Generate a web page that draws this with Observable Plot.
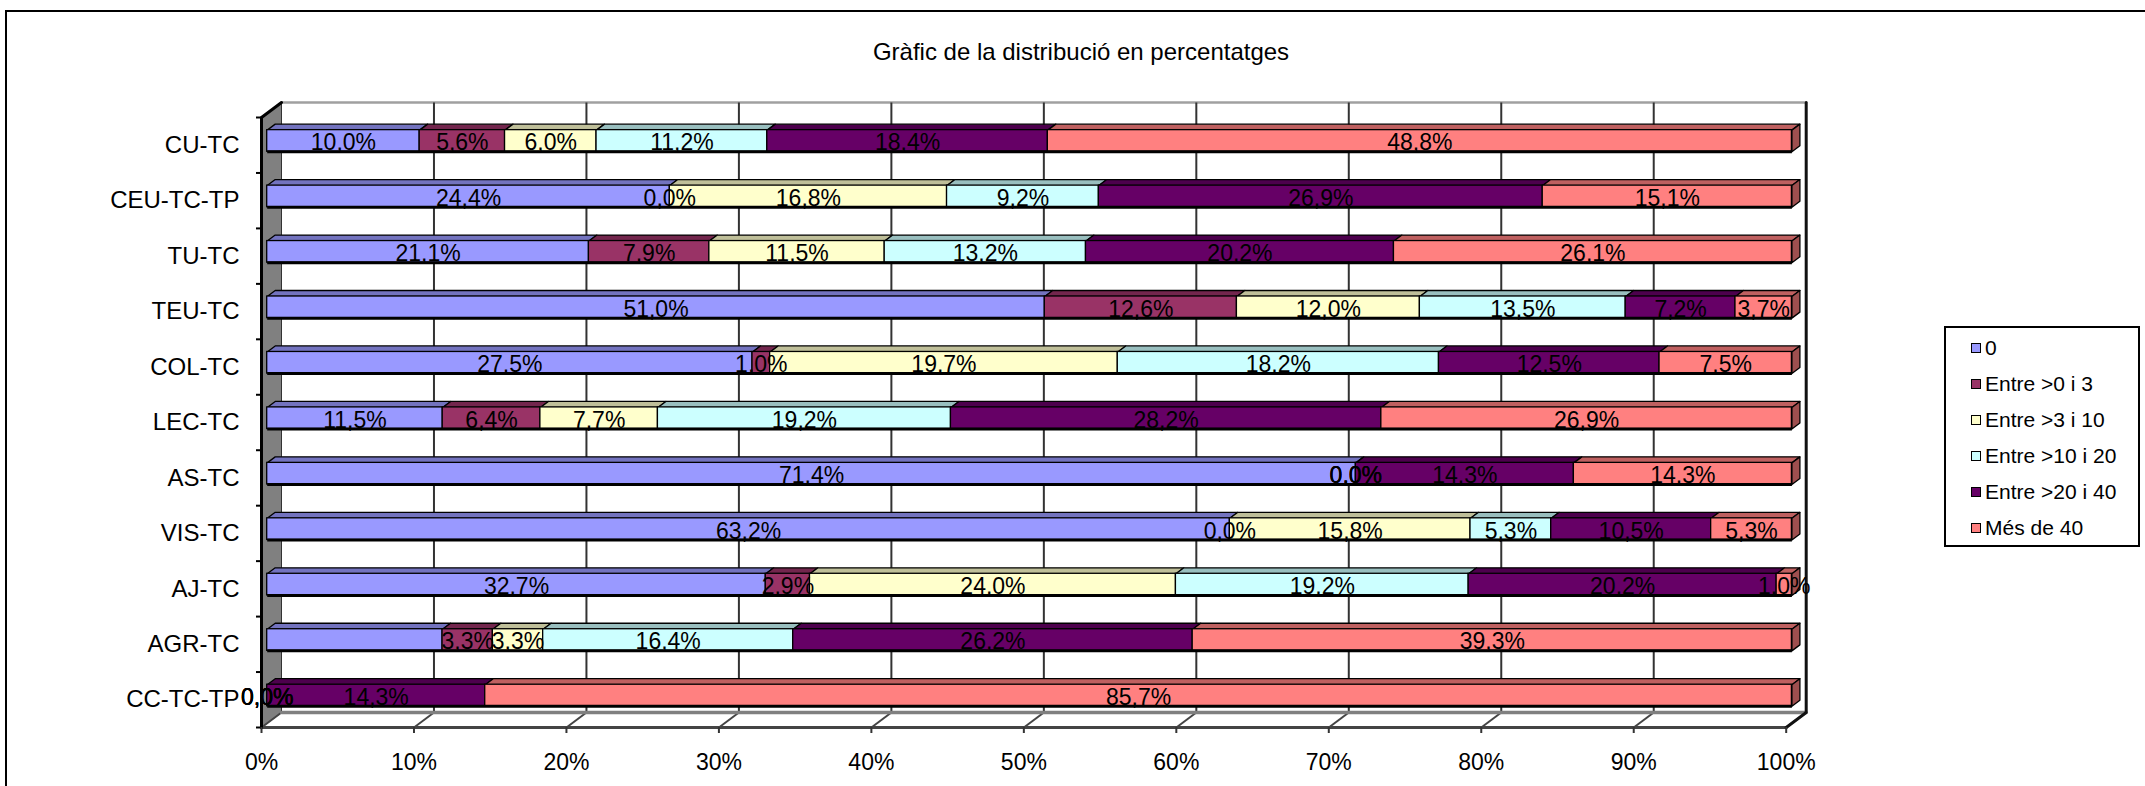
<!DOCTYPE html>
<html>
<head>
<meta charset="utf-8">
<script src="https://cdn.jsdelivr.net/npm/d3@7"></script>
<script src="https://cdn.jsdelivr.net/npm/@observablehq/plot@0.6"></script>
<style>
  html, body { margin: 0; padding: 0; background: #fff; }
  body { width: 2145px; height: 786px; overflow: hidden; position: relative; font-family: "Liberation Sans", Arial, sans-serif; }
  #chart { position: absolute; left: 0; top: 0; }
  #frame { position: absolute; left: 5px; top: 10px; width: 2300px; height: 900px; border: 2px solid #000; box-sizing: border-box; pointer-events: none; }
  #title { position: absolute; left: 1081px; top: 40px; transform: translateX(-50%); font-size: 24px; line-height: 24px; white-space: nowrap; color: #000; }
  #legend { position: absolute; left: 1944px; top: 326px; width: 196px; height: 221px; border: 2px solid #000; box-sizing: border-box; background: #fff; }
  .item { position: absolute; left: 25px; height: 22px; display: flex; align-items: center; font-size: 21px; line-height: 22px; white-space: nowrap; }
  .sw { width: 8px; height: 8px; border: 1.5px solid #000; margin-right: 4px; }
</style>
</head>
<body>
<div id="chart"></div>
<div id="title"></div>
<div id="legend"></div>
<div id="frame"></div>
<script>
// ---------- data ----------
const title = "Gràfic de la distribució en percentatges";
const categories = ["CU-TC","CEU-TC-TP","TU-TC","TEU-TC","COL-TC","LEC-TC","AS-TC","VIS-TC","AJ-TC","AGR-TC","CC-TC-TP"];
const seriesNames = ["0","Entre >0 i 3","Entre >3 i 10","Entre >10 i 20","Entre >20 i 40","Més de 40"];
const seriesColors = ["#9999FF","#993366","#FFFFCC","#CCFFFF","#660066","#FF8080"];
const s0 = [10.0, 24.4, 21.1, 51.0, 27.5, 11.5, 71.4, 63.2, 32.7, 11.5, 0.0];
const s1 = [5.6, 0.0, 7.9, 12.6, 1.0, 6.4, 0.0, 0.0, 2.9, 3.3, 0.0];
const s2 = [6.0, 16.8, 11.5, 12.0, 19.7, 7.7, 0.0, 15.8, 24.0, 3.3, 0.0];
const s3 = [11.2, 9.2, 13.2, 13.5, 18.2, 19.2, 0.0, 5.3, 19.2, 16.4, 0.0];
const s4 = [18.4, 26.9, 20.2, 7.2, 12.5, 28.2, 14.3, 10.5, 20.2, 26.2, 14.3];
const s5 = [48.8, 15.1, 26.1, 3.7, 7.5, 26.9, 14.3, 5.3, 1.0, 39.3, 85.7];
const hiddenLabels = [["AGR-TC", "0"]];
const xTickLabels = ["0%","10%","20%","30%","40%","50%","60%","70%","80%","90%","100%"];

// ---------- layout ----------
const series = [s0, s1, s2, s3, s4, s5];
const W = 1940, H = 786;
const mL = 261, mR = W - 1785.7, mT = 117, mB = 59;
const pxX = W - mL - mR, pxY = (H - mT - mB) / categories.length;
const DX = 20 / pxX, DY = -15 / pxY;      // full depth offset in data units
const Z0 = 0.285, Z1 = 0.685, HALF = 0.195;
const N = categories.length;
const P = (x, y, z) => ({x: x + z * DX, y: y + z * DY});
const shade = (c, f) => { const r = d3.rgb(c); return d3.rgb(r.r * f, r.g * f, r.b * f).formatHex(); };
const fmt = v => v.toFixed(1).replace(".", ",") + "%";

const fronts = [], tops = [], sides = [], labels = [];
categories.forEach((cat, i) => {
  const vals = series.map(s => s[i]);
  const total = d3.sum(vals);
  const yt = i + 0.5 - HALF, yb = i + 0.5 + HALF;
  let cum = 0, last = -1;
  vals.forEach((v, k) => { if (v > 0) last = k; });
  vals.forEach((v, k) => {
    const x1 = cum / total, x2 = (cum + v) / total;
    cum += v;
    if (v > 0) {
      fronts.push({x1: x1 + Z0 * DX, x2: x2 + Z0 * DX, y1: yt + Z0 * DY, y2: yb + Z0 * DY, fill: seriesColors[k]});
      const id = cat + "|" + k;
      [P(x1, yt, Z0), P(x2, yt, Z0), P(x2, yt, Z1), P(x1, yt, Z1)].forEach(p => tops.push({...p, id, fill: shade(seriesColors[k], 0.75)}));
      if (k === last) {
        [P(x2, yt, Z0), P(x2, yt, Z1), P(x2, yb, Z1), P(x2, yb, Z0)].forEach(p => sides.push({...p, id, fill: shade(seriesColors[k], 0.62)}));
      }
    }
    if (v != null && !hiddenLabels.some(h => h[0] === cat && h[1] === seriesNames[k])) {
      labels.push({x: (x1 + x2) / 2 + Z0 * DX, y: i + 0.5 + Z0 * DY, text: fmt(v)});
    }
  });
});

const xTicks = xTickLabels.map((d, i) => i / 10);
const gridTicks = xTicks.slice(1, -1);

const chart = Plot.plot({
  width: W, height: H,
  marginLeft: mL, marginRight: mR, marginTop: mT, marginBottom: mB,
  x: {domain: [0, 1]},
  y: {domain: [0, N], reverse: true},
  color: {type: "identity"},
  style: {fontFamily: "'Liberation Sans', Arial, sans-serif", background: "transparent", color: "#000"},
  marks: [
    // left wall
    Plot.line([P(0,0,0), P(0,0,1), P(0,N,1), P(0,N,0)], {x: "x", y: "y", curve: "linear-closed", fill: "#808080", stroke: "#333", strokeWidth: 1}),
    // back wall top edge
    Plot.line([P(0,0,1), P(1,0,1)], {x: "x", y: "y", stroke: "#a0a0a0", strokeWidth: 2.5}),
    // gridlines on back wall
    Plot.link(gridTicks, {x1: d => d + DX, x2: d => d + DX, y1: DY, y2: N + DY, stroke: "#333", strokeWidth: 2}),
    // floor diagonals
    Plot.link(xTicks, {x1: d => d + DX, y1: N + DY, x2: d => d, y2: N, stroke: "#444", strokeWidth: 2}),
    // floor back edge
    Plot.line([P(0,N,1), P(1,N,1)], {x: "x", y: "y", stroke: "#808080", strokeWidth: 3.5}),
    // floor front edge
    Plot.line([P(0,N,0), P(1,N,0)], {x: "x", y: "y", stroke: "#444", strokeWidth: 3}),
    // right edge of back wall
    Plot.line([P(1,0,1), P(1,N,1), P(1,N,0)], {x: "x", y: "y", stroke: "#111", strokeWidth: 3}),
    // y axis line and top edge of side wall
    Plot.line([P(0,0,1), P(0,0,0), P(0,N,0)], {x: "x", y: "y", stroke: "#000", strokeWidth: 3}),
    Plot.axisY({ticks: d3.range(N + 1), anchor: "left", tickSize: 5, tickFormat: () => "", stroke: "#000", strokeWidth: 2}),
    Plot.axisX({ticks: xTicks, anchor: "bottom", tickSize: 6, tickFormat: () => "", stroke: "#333", strokeWidth: 2}),
    Plot.text(xTickLabels, {x: (d, i) => xTicks[i], y: N, dy: 35, text: d => d, fontSize: 23, lineAnchor: "middle"}),
    Plot.text(categories, {x: 0, y: (d, i) => i + 0.5, dx: -22, text: d => d, textAnchor: "end", fontSize: 24, lineAnchor: "middle"}),
    // bars
    Plot.line(tops, {x: "x", y: "y", z: "id", fill: "fill", stroke: "#000", strokeWidth: 1.3, curve: "linear-closed"}),
    Plot.line(sides, {x: "x", y: "y", z: "id", fill: "fill", stroke: "#000", strokeWidth: 1.3, curve: "linear-closed"}),
    Plot.rect(fronts, {x1: "x1", x2: "x2", y1: "y1", y2: "y2", fill: "fill", stroke: "#000", strokeWidth: 1.3}),
    Plot.link(categories, {x1: Z0 * DX, x2: 1 + Z0 * DX, y1: (d, i) => i + 0.5 + HALF + Z0 * DY, y2: (d, i) => i + 0.5 + HALF + Z0 * DY, stroke: "#000", strokeWidth: 3}),
    Plot.text(labels, {x: "x", y: "y", text: "text", fontSize: 23, dy: 2, lineAnchor: "middle", fill: "#000"})
  ]
});
document.getElementById("chart").appendChild(chart);
document.getElementById("title").textContent = title;
const legend = document.getElementById("legend");
seriesNames.forEach((name, k) => {
  const it = document.createElement("div");
  it.className = "item";
  it.style.top = (9 + k * 35.9) + "px";
  const sw = document.createElement("div");
  sw.className = "sw";
  sw.style.background = seriesColors[k];
  const tx = document.createElement("span");
  tx.textContent = name;
  it.appendChild(sw); it.appendChild(tx);
  legend.appendChild(it);
});
</script>
</body>
</html>
